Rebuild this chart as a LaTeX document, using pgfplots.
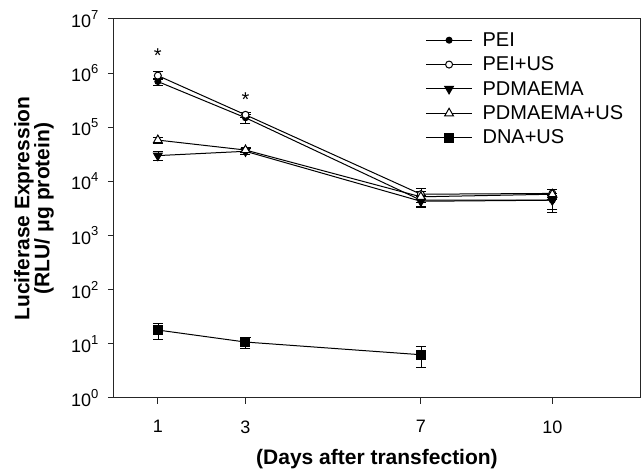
\documentclass[border=0pt]{standalone}
\usepackage{pgfplots}
\pgfplotsset{compat=1.18}
\usepackage{fontspec}
\setmainfont{Liberation Sans}
\newcommand{\sx}[1]{\raisebox{0.45em}{\fontsize{13}{13}\selectfont #1}}
\begin{document}
\begin{tikzpicture}
\begin{axis}[
  scale only axis, width=526pt, height=379pt,
  ymode=log, ymin=1, ymax=1e7, xmin=0, xmax=12,
  xtick={1,3,7,10}, xticklabels={1,3,7,10},
  ytick={1,10,100,1000,10000,100000,1000000,10000000},
  yticklabels={10\sx{0},10\sx{1},10\sx{2},10\sx{3},10\sx{4},10\sx{5},10\sx{6},10\sx{7}},
  yminorticks=false,
  tick align=outside, tick pos=left, major tick length=6pt,
  ticklabel style={font=\fontsize{18}{21}\selectfont},
  xticklabel style={yshift=-13pt},
  yticklabel style={xshift=-6pt},
  axis line style={line width=1pt, black!85},
  major tick style={line width=1pt, black!85},
  xlabel={(Days after transfection)},
  xlabel style={at={(axis description cs:0.5,0)}, anchor=center, yshift=-61pt, font=\bfseries\fontsize{21}{24}\selectfont},
  ylabel={Luciferase Expression\\(RLU/ μg protein)},
  ylabel style={at={(axis description cs:0,0.5)}, anchor=center, yshift=80pt, align=center, font=\bfseries\fontsize{21}{20}\selectfont},
  legend cell align=left,
  legend style={at={(0.592,0.97)}, anchor=north west, draw=none, fill=none, font=\fontsize{20}{22}\selectfont, row sep=5pt, inner sep=0pt, nodes={inner xsep=10pt}},
  legend image code/.code={\draw[mark repeat=2,mark phase=2,#1] plot coordinates {(0pt,0pt)(23pt,0pt)(46pt,0pt)};},
  error bars/y dir=both, error bars/y explicit,
  error bars/error mark options={rotate=90, mark size=5pt, line width=1pt},
  every axis plot/.append style={black, line width=1pt},
]
\addplot[mark=*, mark size=3pt, mark options={solid, fill=black}]
  table[x=x, y=y, y error plus=ep, y error minus=em] {
x y ep em
1 700000 100000 100000
3 150000 20000 35000
7 4500 900 1000
10 4500 1000 1800
};
\addlegendentry{PEI}
\addplot[mark=*, mark size=3.5pt, mark options={solid, fill=white}]
  table[x=x, y=y, y error plus=ep, y error minus=em] {
x y ep em
1 900000 150000 150000
3 170000 20000 20000
7 5800 1500 1200
10 6000 1000 1000
};
\addlegendentry{PEI+US}
\addplot[mark=triangle*, mark size=5pt, mark options={solid, fill=black, rotate=180}]
  table[x=x, y=y, y error plus=ep, y error minus=em] {
x y ep em
1 30000 5000 6000
3 36000 4000 4000
7 4300 1000 1000
10 4500 1500 1500
};
\addlegendentry{PDMAEMA}
\addplot[mark=triangle*, mark size=5pt, mark options={solid, fill=white}]
  table[x=x, y=y, y error plus=ep, y error minus=em] {
x y ep em
1 58000 8000 8000
3 38000 4000 4000
7 5200 1200 1200
10 5800 1200 1200
};
\addlegendentry{PDMAEMA+US}
\addplot[mark=square*, mark size=4.5pt, mark options={solid, fill=black}]
  table[x=x, y=y, y error plus=ep, y error minus=em] {
x y ep em
1 18 6 6
3 10.8 2.5 2.5
7 6.3 2.7 2.6
};
\addlegendentry{DNA+US}
\node[font=\fontsize{20}{20}\selectfont] at (axis cs:1,2.1e6) {*};
\node[font=\fontsize{20}{20}\selectfont] at (axis cs:3,3.3e5) {*};
\end{axis}
\pgfresetboundingbox
\path ([shift={(-114pt,-76pt)}]current axis.south west) rectangle ([shift={(3pt,19pt)}]current axis.north east);
\end{tikzpicture}
\end{document}
